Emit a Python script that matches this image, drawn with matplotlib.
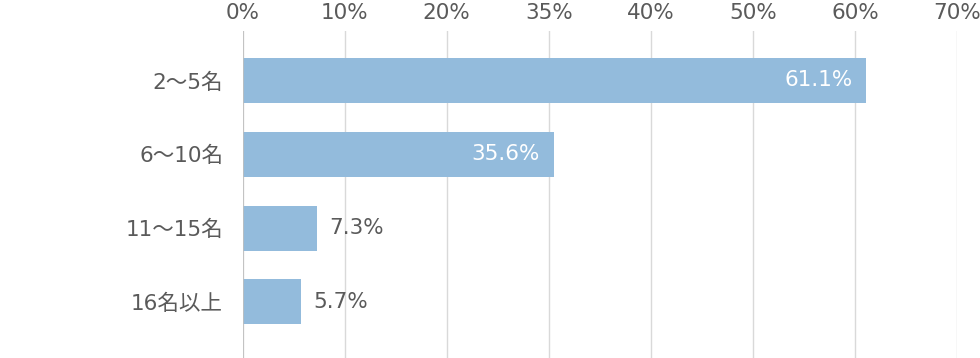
import numpy as np
import matplotlib
matplotlib.use('Agg')
import matplotlib.pyplot as plt

plt.rcParams['font.family'] = ['DejaVu Sans', 'Noto Sans CJK JP']

# データ
categories = ['2〜5名', '6〜10名', '11〜15名', '16名以上']
bar_values = [61.1, 30.5, 7.3, 5.7]          # 棒の長さ
value_labels = ['61.1%', '35.6%', '7.3%', '5.7%']
inside_label = [True, True, False, False]
tick_values = [0, 10, 20, 30, 40, 50, 60, 70]
tick_labels = ['0%', '10%', '20%', '35%', '40%', '50%', '60%', '70%']

bar_color = '#93bbdc'
text_color = '#5a5a5a'

fig = plt.figure(figsize=(9.8, 3.58), dpi=100)
ax = fig.add_axes([242.5 / 980, 0, (957 - 242.5) / 980, (358 - 31) / 358])

y = np.arange(len(categories))
ax.barh(y, bar_values, height=0.61, color=bar_color, zorder=3)

for yi, v, lab, inside in zip(y, bar_values, value_labels, inside_label):
    if inside:
        ax.annotate(lab, (v, yi), xytext=(-10, 0), textcoords='offset points',
                    ha='right', va='center', color='white', fontsize=15.5, zorder=4)
    else:
        ax.annotate(lab, (v, yi), xytext=(9, 0), textcoords='offset points',
                    ha='left', va='center', color=text_color, fontsize=15.5, zorder=4)

ax.set_xlim(0, 70)
ax.set_ylim(3.76, -0.67)
ax.set_xticks(tick_values)
ax.set_xticklabels(tick_labels)
ax.set_yticks(y)
ax.set_yticklabels(categories)

ax.xaxis.tick_top()
ax.tick_params(axis='x', length=0, pad=6, labelsize=15.5, labelcolor=text_color)
ax.tick_params(axis='y', length=0, pad=14, labelsize=15.5, labelcolor=text_color)

ax.grid(axis='x', color='#d9d9d9', linewidth=1, zorder=0)
ax.axvline(0, color='#bfbfbf', linewidth=1.2, zorder=5)
for s in ax.spines.values():
    s.set_visible(False)

fig.savefig('out.png', dpi=100)
